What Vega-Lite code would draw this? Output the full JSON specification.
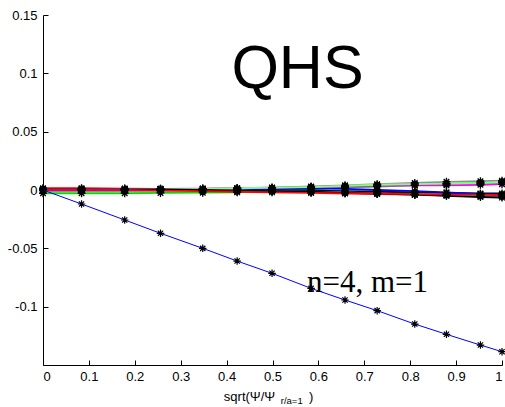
{
  "$schema": "https://vega.github.io/schema/vega-lite/v6.json",
  "autosize": "none",
  "width": 459,
  "height": 350,
  "padding": {"left": 43, "top": 15, "right": 3, "bottom": 42},
  "background": "white",
  "config": {
    "view": {"stroke": null},
    "axis": {
      "grid": false,
      "domainColor": "#000000",
      "tickColor": "#000000",
      "labelColor": "#000000",
      "labelFont": "Liberation Sans",
      "labelFontSize": 13,
      "tickSize": -5,
      "domainWidth": 1,
      "tickWidth": 1
    }
  },
  "datasets": {
    "curves": [
      {"x": 0, "y": 0.0015, "s": "s01"}, {"x": 0.084, "y": 0.0015, "s": "s01"}, {"x": 0.178, "y": 0.0012, "s": "s01"}, {"x": 0.256, "y": 0.001, "s": "s01"}, {"x": 0.348, "y": 0.0008, "s": "s01"}, {"x": 0.423, "y": 0.0005, "s": "s01"}, {"x": 0.499, "y": -0.0005, "s": "s01"}, {"x": 0.584, "y": -0.0015, "s": "s01"}, {"x": 0.658, "y": -0.0025, "s": "s01"}, {"x": 0.728, "y": -0.0035, "s": "s01"}, {"x": 0.81, "y": -0.004, "s": "s01"}, {"x": 0.879, "y": -0.0045, "s": "s01"}, {"x": 0.953, "y": -0.005, "s": "s01"}, {"x": 1.0, "y": -0.0055, "s": "s01"},
      {"x": 0, "y": -0.0028, "s": "s02"}, {"x": 0.084, "y": -0.0028, "s": "s02"}, {"x": 0.178, "y": -0.0028, "s": "s02"}, {"x": 0.256, "y": -0.0025, "s": "s02"}, {"x": 0.348, "y": -0.0023, "s": "s02"}, {"x": 0.423, "y": -0.002, "s": "s02"}, {"x": 0.499, "y": -0.001, "s": "s02"}, {"x": 0.584, "y": 0.0005, "s": "s02"}, {"x": 0.658, "y": 0.002, "s": "s02"}, {"x": 0.728, "y": 0.003, "s": "s02"}, {"x": 0.81, "y": 0.004, "s": "s02"}, {"x": 0.879, "y": 0.005, "s": "s02"}, {"x": 0.953, "y": 0.006, "s": "s02"}, {"x": 1.0, "y": 0.0065, "s": "s02"},
      {"x": 0, "y": 0, "s": "s03"}, {"x": 0.084, "y": 0, "s": "s03"}, {"x": 0.178, "y": 0, "s": "s03"}, {"x": 0.256, "y": 0, "s": "s03"}, {"x": 0.348, "y": 0, "s": "s03"}, {"x": 0.423, "y": 0, "s": "s03"}, {"x": 0.499, "y": 0, "s": "s03"}, {"x": 0.584, "y": -0.0005, "s": "s03"}, {"x": 0.658, "y": -0.001, "s": "s03"}, {"x": 0.728, "y": -0.0015, "s": "s03"}, {"x": 0.81, "y": -0.002, "s": "s03"}, {"x": 0.879, "y": -0.0025, "s": "s03"}, {"x": 0.953, "y": -0.003, "s": "s03"}, {"x": 1.0, "y": -0.003, "s": "s03"},
      {"x": 0, "y": -0.0005, "s": "s04"}, {"x": 0.084, "y": -0.0005, "s": "s04"}, {"x": 0.178, "y": -0.0005, "s": "s04"}, {"x": 0.256, "y": -0.0003, "s": "s04"}, {"x": 0.348, "y": 0, "s": "s04"}, {"x": 0.423, "y": 0.0005, "s": "s04"}, {"x": 0.499, "y": 0.001, "s": "s04"}, {"x": 0.584, "y": 0.0015, "s": "s04"}, {"x": 0.658, "y": 0.001, "s": "s04"}, {"x": 0.728, "y": 0, "s": "s04"}, {"x": 0.81, "y": -0.001, "s": "s04"}, {"x": 0.879, "y": -0.002, "s": "s04"}, {"x": 0.953, "y": -0.0035, "s": "s04"}, {"x": 1.0, "y": -0.004, "s": "s04"},
      {"x": 0, "y": 0, "s": "s05"}, {"x": 0.084, "y": 0, "s": "s05"}, {"x": 0.178, "y": 0, "s": "s05"}, {"x": 0.256, "y": 0, "s": "s05"}, {"x": 0.348, "y": -0.0003, "s": "s05"}, {"x": 0.423, "y": -0.0005, "s": "s05"}, {"x": 0.499, "y": -0.001, "s": "s05"}, {"x": 0.584, "y": -0.0015, "s": "s05"}, {"x": 0.658, "y": -0.002, "s": "s05"}, {"x": 0.728, "y": -0.003, "s": "s05"}, {"x": 0.81, "y": -0.004, "s": "s05"}, {"x": 0.879, "y": -0.0045, "s": "s05"}, {"x": 0.953, "y": -0.005, "s": "s05"}, {"x": 1.0, "y": -0.005, "s": "s05"},
      {"x": 0, "y": 0.001, "s": "s06"}, {"x": 0.084, "y": 0.001, "s": "s06"}, {"x": 0.178, "y": 0.001, "s": "s06"}, {"x": 0.256, "y": 0.001, "s": "s06"}, {"x": 0.348, "y": 0.0012, "s": "s06"}, {"x": 0.423, "y": 0.0015, "s": "s06"}, {"x": 0.499, "y": 0.002, "s": "s06"}, {"x": 0.584, "y": 0.0025, "s": "s06"}, {"x": 0.658, "y": 0.003, "s": "s06"}, {"x": 0.728, "y": 0.0035, "s": "s06"}, {"x": 0.81, "y": 0.004, "s": "s06"}, {"x": 0.879, "y": 0.004, "s": "s06"}, {"x": 0.953, "y": 0.0045, "s": "s06"}, {"x": 1.0, "y": 0.005, "s": "s06"},
      {"x": 0, "y": 0.0005, "s": "s07"}, {"x": 0.084, "y": 0.0005, "s": "s07"}, {"x": 0.178, "y": 0.0005, "s": "s07"}, {"x": 0.256, "y": 0.0008, "s": "s07"}, {"x": 0.348, "y": 0.001, "s": "s07"}, {"x": 0.423, "y": 0.0015, "s": "s07"}, {"x": 0.499, "y": 0.002, "s": "s07"}, {"x": 0.584, "y": 0.003, "s": "s07"}, {"x": 0.658, "y": 0.004, "s": "s07"}, {"x": 0.728, "y": 0.005, "s": "s07"}, {"x": 0.81, "y": 0.006, "s": "s07"}, {"x": 0.879, "y": 0.007, "s": "s07"}, {"x": 0.953, "y": 0.0075, "s": "s07"}, {"x": 1.0, "y": 0.008, "s": "s07"},
      {"x": 0, "y": 0, "s": "s08"}, {"x": 0.084, "y": 0, "s": "s08"}, {"x": 0.178, "y": 0.0003, "s": "s08"}, {"x": 0.256, "y": 0.0005, "s": "s08"}, {"x": 0.348, "y": 0.001, "s": "s08"}, {"x": 0.423, "y": 0.0015, "s": "s08"}, {"x": 0.499, "y": 0.002, "s": "s08"}, {"x": 0.584, "y": 0.0025, "s": "s08"}, {"x": 0.658, "y": 0.0035, "s": "s08"}, {"x": 0.728, "y": 0.0045, "s": "s08"}, {"x": 0.81, "y": 0.005, "s": "s08"}, {"x": 0.879, "y": 0.0055, "s": "s08"}, {"x": 0.953, "y": 0.006, "s": "s08"}, {"x": 1.0, "y": 0.007, "s": "s08"},
      {"x": 0, "y": 0.0005, "s": "s09"}, {"x": 0.084, "y": 0.0005, "s": "s09"}, {"x": 0.178, "y": 0.0005, "s": "s09"}, {"x": 0.256, "y": 0.0005, "s": "s09"}, {"x": 0.348, "y": 0, "s": "s09"}, {"x": 0.423, "y": -0.0005, "s": "s09"}, {"x": 0.499, "y": -0.001, "s": "s09"}, {"x": 0.584, "y": -0.0015, "s": "s09"}, {"x": 0.658, "y": -0.0025, "s": "s09"}, {"x": 0.728, "y": -0.003, "s": "s09"}, {"x": 0.81, "y": -0.004, "s": "s09"}, {"x": 0.879, "y": -0.005, "s": "s09"}, {"x": 0.953, "y": -0.006, "s": "s09"}, {"x": 1.0, "y": -0.0065, "s": "s09"},
      {"x": 0, "y": 0, "s": "s10"}, {"x": 0.084, "y": 0, "s": "s10"}, {"x": 0.178, "y": 0, "s": "s10"}, {"x": 0.256, "y": -0.0005, "s": "s10"}, {"x": 0.348, "y": -0.001, "s": "s10"}, {"x": 0.423, "y": -0.0015, "s": "s10"}, {"x": 0.499, "y": -0.002, "s": "s10"}, {"x": 0.584, "y": -0.0025, "s": "s10"}, {"x": 0.658, "y": -0.003, "s": "s10"}, {"x": 0.728, "y": -0.003, "s": "s10"}, {"x": 0.81, "y": -0.0035, "s": "s10"}, {"x": 0.879, "y": -0.004, "s": "s10"}, {"x": 0.953, "y": -0.004, "s": "s10"}, {"x": 1.0, "y": -0.0045, "s": "s10"}
    ],
    "main": [
      {"x": 0, "y": 0}, {"x": 0.084, "y": -0.012}, {"x": 0.178, "y": -0.0257}, {"x": 0.256, "y": -0.0371}, {"x": 0.348, "y": -0.05}, {"x": 0.423, "y": -0.0609}, {"x": 0.499, "y": -0.0714}, {"x": 0.584, "y": -0.0843}, {"x": 0.658, "y": -0.0943}, {"x": 0.728, "y": -0.1034}, {"x": 0.81, "y": -0.1149}, {"x": 0.879, "y": -0.1237}, {"x": 0.953, "y": -0.1329}, {"x": 1.0, "y": -0.1386}
    ],
    "notes": [
      {"x": 0.5545, "y": 0.0872, "text": "QHS", "kind": "big"},
      {"x": 0.575, "y": -0.0874, "text": "n=4, m=1", "kind": "serif"}
    ],
    "xtitle": [
      {"x": 0.394, "y": -0.1809, "text": "sqrt(Ψ/Ψ", "kind": "main"},
      {"x": 0.518, "y": -0.1834, "text": "r/a=1", "kind": "sub"},
      {"x": 0.5795, "y": -0.1809, "text": ")", "kind": "main"}
    ]
  },
  "layer": [
    {
      "data": {"name": "curves"},
      "mark": {"type": "line", "strokeWidth": 1.8, "clip": false},
      "encoding": {
        "x": {
          "field": "x", "type": "quantitative",
          "scale": {"domain": [0, 1], "nice": false, "zero": false},
          "axis": {"values": [0, 0.1, 0.2, 0.3, 0.4, 0.5, 0.6, 0.7, 0.8, 0.9, 1], "labelExpr": "'' + datum.value", "title": null, "labelPadding": 10}
        },
        "y": {
          "field": "y", "type": "quantitative",
          "scale": {"domain": [-0.15, 0.15], "nice": false, "zero": false},
          "axis": {"values": [-0.1, -0.05, 0, 0.05, 0.1, 0.15], "labelExpr": "'' + datum.value", "title": null, "labelPadding": 11}
        },
        "color": {
          "field": "s", "type": "nominal", "legend": null,
          "scale": {
            "domain": ["s01", "s02", "s03", "s04", "s05", "s06", "s07", "s08", "s09", "s10"],
            "range": ["#ff0000", "#00dd00", "#000000", "#0000ff", "#00d8f0", "#ff00ff", "#909090", "#80ff80", "#000000", "#ff0000"]
          }
        },
        "order": {"field": "x", "type": "quantitative"}
      }
    },
    {
      "data": {"name": "curves"},
      "mark": {
        "type": "point",
        "shape": "M-1,0L1,0M0,-1L0,1M-0.7,-0.7L0.7,0.7M-0.7,0.7L0.7,-0.7",
        "filled": false,
        "stroke": "#000000",
        "strokeWidth": 1.3,
        "size": 64,
        "opacity": 1
      },
      "encoding": {
        "x": {"field": "x", "type": "quantitative"},
        "y": {"field": "y", "type": "quantitative"}
      }
    },
    {
      "data": {"name": "main"},
      "mark": {"type": "line", "strokeWidth": 1, "color": "#0000ff"},
      "encoding": {
        "x": {"field": "x", "type": "quantitative"},
        "y": {"field": "y", "type": "quantitative"}
      }
    },
    {
      "data": {"name": "main"},
      "mark": {
        "type": "point",
        "shape": "M-1,0L1,0M0,-1L0,1M-0.7,-0.7L0.7,0.7M-0.7,0.7L0.7,-0.7",
        "filled": false,
        "stroke": "#000000",
        "strokeWidth": 1.2,
        "size": 56,
        "opacity": 1
      },
      "encoding": {
        "x": {"field": "x", "type": "quantitative"},
        "y": {"field": "y", "type": "quantitative"}
      }
    },
    {
      "data": {"name": "notes"},
      "transform": [{"filter": "datum.kind == 'big'"}],
      "mark": {"type": "text", "font": "Liberation Sans", "fontSize": 61, "align": "center", "baseline": "alphabetic", "color": "#000000"},
      "encoding": {
        "x": {"field": "x", "type": "quantitative"},
        "y": {"field": "y", "type": "quantitative"},
        "text": {"field": "text"}
      }
    },
    {
      "data": {"name": "notes"},
      "transform": [{"filter": "datum.kind == 'serif'"}],
      "mark": {"type": "text", "font": "Liberation Serif", "fontSize": 31, "align": "left", "baseline": "alphabetic", "color": "#000000"},
      "encoding": {
        "x": {"field": "x", "type": "quantitative"},
        "y": {"field": "y", "type": "quantitative"},
        "text": {"field": "text"}
      }
    },
    {
      "data": {"name": "xtitle"},
      "transform": [{"filter": "datum.kind == 'main'"}],
      "mark": {"type": "text", "font": "Liberation Sans", "fontSize": 13, "align": "left", "baseline": "alphabetic", "color": "#000000"},
      "encoding": {
        "x": {"field": "x", "type": "quantitative"},
        "y": {"field": "y", "type": "quantitative"},
        "text": {"field": "text"}
      }
    },
    {
      "data": {"name": "xtitle"},
      "transform": [{"filter": "datum.kind == 'sub'"}],
      "mark": {"type": "text", "font": "Liberation Sans", "fontSize": 9.5, "align": "left", "baseline": "alphabetic", "color": "#000000"},
      "encoding": {
        "x": {"field": "x", "type": "quantitative"},
        "y": {"field": "y", "type": "quantitative"},
        "text": {"field": "text"}
      }
    }
  ]
}
